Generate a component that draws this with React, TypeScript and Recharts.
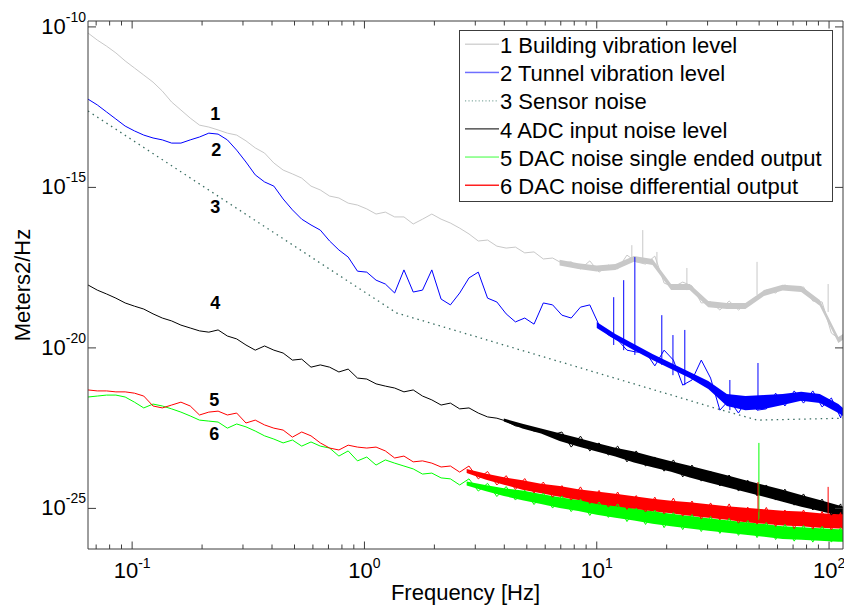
import React from 'react';
import { ComposedChart, Line, Area, XAxis, YAxis, ReferenceDot, Legend } from 'recharts';

const FONT = '"Liberation Sans", Arial, Helvetica, sans-serif';
const AXIS = '#3c3c3c';

// log10 of frequency [Hz] where the curves were read
const logFreq = [
  -1.19, -1.15, -1.11, -1.07, -1.03, -0.99, -0.95, -0.91, -0.87, -0.83,
  -0.79, -0.75, -0.71, -0.67, -0.63, -0.59, -0.55, -0.51, -0.47, -0.43,
  -0.39, -0.35, -0.31, -0.27, -0.23, -0.19, -0.15, -0.11, -0.07, -0.03,
  0.01, 0.05, 0.09, 0.13, 0.17, 0.21, 0.25, 0.29, 0.33, 0.37,
  0.41, 0.45, 0.49, 0.53, 0.57, 0.61, 0.65, 0.69, 0.73, 0.77,
  0.81, 0.85, 0.89, 0.93, 0.97, 1.01, 1.05, 1.09, 1.13, 1.17,
  1.21, 1.25, 1.29, 1.33, 1.37, 1.41, 1.45, 1.49, 1.53, 1.57,
  1.61, 1.65, 1.69, 1.73, 1.77, 1.81, 1.85, 1.89, 1.93, 1.97,
  2.01, 2.05, 2.06,
];

// log10 of PSD [m^2/Hz]
const buildingLevel = [
  -10.19, -10.41, -10.6, -10.81, -11.06, -11.28, -11.5, -11.72, -12.0, -12.34,
  -12.59, -12.84, -13.06, -13.12, -13.21, -13.31, -13.37, -13.55, -13.77, -13.93,
  -14.24, -14.46, -14.58, -14.71, -14.96, -15.08, -15.27, -15.33, -15.49, -15.55,
  -15.67, -15.83, -15.77, -15.92, -15.92, -16.14, -15.99, -15.83, -15.99, -16.11,
  -16.27, -16.45, -16.67, -16.64, -16.83, -16.89, -16.86, -17.04, -17.01, -17.23,
  -17.2, -17.36, -17.32, -17.54, -17.29, -17.64, -17.42, -17.54, -17.11, -17.32,
  -17.39, -17.14, -17.98, -18.1, -17.95, -18.07, -18.6, -18.57, -18.82, -18.54,
  -18.82, -18.6, -18.45, -18.2, -18.29, -18.04, -18.17, -18.1, -18.54, -18.57,
  -19.54, -19.75, -19.66,
];

const tunnelLevel = [
  -12.25, -12.43, -12.65, -12.87, -13.09, -13.24, -13.37, -13.46, -13.52, -13.62,
  -13.62, -13.52, -13.43, -13.31, -13.34, -13.52, -13.84, -14.21, -14.61, -14.83,
  -14.96, -15.36, -15.7, -15.99, -16.17, -16.33, -16.67, -16.95, -17.17, -17.61,
  -17.64, -17.89, -18.01, -18.29, -17.57, -18.26, -18.2, -17.57, -18.48, -18.66,
  -18.29, -17.82, -17.64, -18.45, -18.57, -18.94, -19.19, -19.07, -19.26, -18.6,
  -18.66, -18.98, -19.07, -18.73, -18.66, -19.29, -19.6, -19.75, -20.07, -20.13,
  -20.13, -20.56, -20.07, -20.38, -21.16, -21.0, -20.38, -20.94, -21.94, -21.62,
  -22.03, -21.56, -21.94, -21.9, -21.41, -21.81, -21.34, -21.72, -21.34, -21.84,
  -21.56, -22.18, -21.87,
];

const sensorLogFreq = [-1.19, 0.138, 1.539, 1.69, 2.06];
const sensorLevel = [-12.62, -18.91, -21.94, -22.25, -22.19];

const adcLevel = [
  -18.04, -18.2, -18.32, -18.45, -18.6, -18.7, -18.79, -18.94, -19.07, -19.16,
  -19.29, -19.38, -19.47, -19.51, -19.44, -19.63, -19.72, -19.91, -20.07, -19.94,
  -20.07, -20.16, -20.38, -20.35, -20.6, -20.53, -20.6, -20.75, -20.66, -20.94,
  -20.97, -21.12, -21.19, -21.25, -21.37, -21.31, -21.5, -21.62, -21.78, -21.72,
  -21.9, -21.87, -22.03, -22.15, -22.19, -22.28, -22.43, -22.46, -22.59, -22.59,
  -22.71, -22.62, -23.09, -22.75, -23.21, -22.96, -23.34, -23.06, -23.55, -23.21,
  -23.68, -23.4, -23.84, -23.49, -24.02, -23.65, -24.15, -23.84, -24.3, -23.96,
  -24.46, -24.12, -24.61, -24.27, -24.74, -24.4, -24.9, -24.55, -25.05, -24.71,
  -25.21, -24.86, -25.18,
];

const dacSingleLevel = [
  -21.53, -21.5, -21.47, -21.47, -21.53, -21.69, -21.87, -21.75, -21.81, -21.9,
  -22.0, -22.12, -22.25, -22.28, -22.31, -22.5, -22.37, -22.46, -22.59, -22.74,
  -22.84, -22.96, -22.87, -23.06, -22.93, -23.06, -23.12, -23.37, -23.21, -23.52,
  -23.4, -23.65, -23.49, -23.59, -23.68, -23.77, -23.93, -23.9, -24.05, -24.08,
  -24.27, -24.08, -24.46, -24.22, -24.63, -24.32, -24.74, -24.43, -24.88, -24.52,
  -24.99, -24.61, -25.1, -24.71, -25.22, -24.8, -25.28, -24.86, -25.41, -24.99,
  -25.5, -25.05, -25.6, -25.13, -25.66, -25.19, -25.72, -25.25, -25.78, -25.31,
  -25.84, -25.38, -25.91, -25.44, -25.97, -25.5, -26.02, -25.53, -26.05, -25.56,
  -26.05, -25.6, -26.03,
];

const dacDiffLevel = [
  -21.31, -21.34, -21.34, -21.37, -21.37, -21.41, -21.5, -21.81, -21.87, -21.78,
  -21.69, -21.81, -22.09, -22.0, -21.97, -22.09, -22.03, -22.34, -22.25, -22.4,
  -22.5, -22.56, -22.78, -22.62, -22.74, -22.96, -23.12, -23.18, -23.03, -23.09,
  -23.12, -23.09, -23.21, -23.43, -23.37, -23.55, -23.52, -23.59, -23.71, -23.68,
  -23.87, -23.68, -24.08, -23.85, -24.27, -23.98, -24.41, -24.07, -24.52, -24.18,
  -24.65, -24.29, -24.74, -24.33, -24.85, -24.44, -24.96, -24.49, -25.03, -24.6,
  -25.11, -24.65, -25.17, -24.68, -25.24, -24.77, -25.33, -24.83, -25.36, -24.86,
  -25.46, -24.96, -25.49, -24.97, -25.56, -25.05, -25.63, -25.05, -25.64, -25.1,
  -25.67, -25.13, -25.66,
];

// solid core of the dense noise bands (log10 Hz, log10 PSD)
const bandLogFreq = [
  0.2, 0.28, 0.36, 0.44, 0.52, 0.6, 0.68, 0.76, 0.84, 0.92, 1.0, 1.08, 1.16,
  1.24, 1.32, 1.4, 1.48, 1.56, 1.64, 1.72, 1.8, 1.88, 1.96, 2.04, 2.06,
];
const buildingBandTop = [
  null, null, null, null, null, null, null, null, -17.25, -17.36, -17.43, -17.39, -17.14,
  -17.23, -18.01, -18.01, -18.54, -18.6, -18.6, -18.2, -18.03, -18.07, -18.51, -19.66, -19.57,
];
const buildingBandBottom = [
  null, null, null, null, null, null, null, null, -17.43, -17.54, -17.62, -17.57, -17.32,
  -17.42, -18.2, -18.2, -18.73, -18.79, -18.79, -18.38, -18.21, -18.26, -18.69, -19.85, -19.75,
];
const tunnelBandTop = [
  null, null, null, null, null, null, null, null, null, null, -19.19, -19.57, -19.88,
  -20.19, -20.47, -20.75, -21.03, -21.44, -21.5, -21.47, -21.44, -21.37, -21.44, -21.75, -21.87,
];
const tunnelBandBottom = [
  null, null, null, null, null, null, null, null, null, null, -19.38, -19.75, -20.07,
  -20.38, -20.66, -20.94, -21.28, -21.81, -21.94, -21.9, -21.78, -21.65, -21.72, -22.03, -22.12,
];
const adcBandTop = [
  null, null, null, null, null, -22.2, -22.36, -22.51, -22.66, -22.81, -22.96, -23.11, -23.23,
  -23.38, -23.53, -23.67, -23.82, -23.97, -24.12, -24.27, -24.42, -24.58, -24.74, -24.9, -24.94,
];
const adcBandBottom = [
  null, null, null, null, null, -22.29, -22.51, -22.67, -22.9, -23.07, -23.23, -23.38, -23.57,
  -23.72, -23.86, -24.04, -24.19, -24.34, -24.49, -24.64, -24.79, -24.95, -25.08, -25.22, -25.25,
];
const dacSingleBandTop = [
  null, null, null, -24.16, -24.27, -24.37, -24.44, -24.55, -24.65, -24.74, -24.81, -24.9, -25.0,
  -25.09, -25.17, -25.24, -25.31, -25.37, -25.43, -25.49, -25.56, -25.59, -25.62, -25.65, -25.65,
];
const dacSingleBandBottom = [
  null, null, null, -24.29, -24.46, -24.61, -24.75, -24.86, -24.99, -25.08, -25.2, -25.29, -25.38,
  -25.48, -25.56, -25.63, -25.7, -25.76, -25.82, -25.88, -25.95, -25.98, -26.01, -26.04, -26.04,
];
const dacDiffBandTop = [
  null, null, null, -23.77, -23.91, -24.03, -24.12, -24.23, -24.3, -24.4, -24.47, -24.54, -24.62,
  -24.7, -24.76, -24.81, -24.87, -24.93, -24.98, -25.03, -25.07, -25.1, -25.15, -25.18, -25.18,
];
const dacDiffBandBottom = [
  null, null, null, -23.9, -24.1, -24.26, -24.42, -24.53, -24.64, -24.74, -24.86, -24.93, -25.01,
  -25.09, -25.15, -25.23, -25.29, -25.35, -25.43, -25.48, -25.53, -25.56, -25.6, -25.63, -25.63,
];

// narrow spectral lines (log10 Hz, top and base in log10 PSD)
const buildingSpikeLogFreq = [1.151, 1.198, 1.259, 1.388, 1.69, 1.996];
const buildingSpikeTop = [-16.8, -16.33, -17.01, -17.51, -17.32, -18.01];
const buildingSpikeBase = [-17.32, -17.32, -17.57, -18.2, -18.35, -18.88];
const tunnelSpikeLogFreq = [1.073, 1.116, 1.164, 1.28, 1.328, 1.379, 1.573, 1.694];
const tunnelSpikeTop = [-18.42, -17.89, -17.17, -18.98, -19.6, -19.44, -21.0, -20.47];
const tunnelSpikeBase = [-19.91, -20.07, -20.22, -20.53, -20.85, -21.16, -21.94, -21.94];
const dacSingleSpikeLogFreq = [1.698];
const dacSingleSpikeTop = [-22.96];
const dacSingleSpikeBase = [-25.36];
const dacDiffSpikeLogFreq = [1.694, 1.996];
const dacDiffSpikeTop = [-24.18, -24.33];
const dacDiffSpikeBase = [-25.11, -25.3];

const legendLabels = [
  '1 Building vibration level',
  '2 Tunnel vibration level',
  '3 Sensor noise',
  '4 ADC input noise level',
  '5 DAC noise single ended output',
  '6 DAC noise differential output',
];
const legendColors = ['#d4d4d4', '#6f6fff', '#6a9a8e', '#555555', '#7dff7d', '#ff2020'];

const annotationText = ['1', '2', '3', '4', '5', '6'];
const annotationLogFreq = [-0.642, -0.638, -0.642, -0.642, -0.647, -0.647];
const annotationLevel = [-12.7, -13.82, -15.6, -18.59, -21.62, -22.68];

const freqTicks = [
  0.07, 0.08, 0.09, 0.1, 0.2, 0.3, 0.4, 0.5, 0.6, 0.7, 0.8, 0.9,
  1, 2, 3, 4, 5, 6, 7, 8, 9, 10, 20, 30, 40, 50, 60, 70, 80, 90, 100,
];
const psdTicks = [1e-25, 1e-20, 1e-15, 1e-10];

const pow = (v: number) => Math.pow(10, v);
const X_DOMAIN = [pow(-1.19), pow(2.06)];
const Y_DOMAIN = [pow(-26.265), pow(-9.816)];

function toRows(lf: number[], lv: number[]) {
  return lf.map((v, i) => ({ f: pow(v), psd: pow(lv[i]) }));
}

function toBand(top: (number | null)[], bottom: (number | null)[]) {
  const rows: { f: number; range: number[] }[] = [];
  bandLogFreq.forEach((v, i) => {
    const t = top[i];
    const b = bottom[i];
    if (t == null || b == null) return;
    rows.push({ f: pow(v), range: [pow(b), pow(t)] });
  });
  return rows;
}

function toSpikes(lf: number[], top: number[], base: number[]) {
  return lf.map((v, i) => [
    { f: pow(v), psd: pow(base[i]) },
    { f: pow(v), psd: pow(top[i]) },
  ]);
}

type Series = {
  name: string;
  color: string;
  dotted?: boolean;
  rows: { f: number; psd: number }[];
  band?: { f: number; range: number[] }[];
  spikes?: { f: number; psd: number }[][];
};

const SERIES: Series[] = [
  {
    name: 'building',
    color: '#c8c8c8',
    rows: toRows(logFreq, buildingLevel),
    band: toBand(buildingBandTop, buildingBandBottom),
    spikes: toSpikes(buildingSpikeLogFreq, buildingSpikeTop, buildingSpikeBase),
  },
  {
    name: 'tunnel',
    color: '#0000ff',
    rows: toRows(logFreq, tunnelLevel),
    band: toBand(tunnelBandTop, tunnelBandBottom),
    spikes: toSpikes(tunnelSpikeLogFreq, tunnelSpikeTop, tunnelSpikeBase),
  },
  { name: 'sensor', color: '#3a6e62', dotted: true, rows: toRows(sensorLogFreq, sensorLevel) },
  {
    name: 'adc',
    color: '#000000',
    rows: toRows(logFreq, adcLevel),
    band: toBand(adcBandTop, adcBandBottom),
  },
  {
    name: 'dacSingle',
    color: '#00ff00',
    rows: toRows(logFreq, dacSingleLevel),
    band: toBand(dacSingleBandTop, dacSingleBandBottom),
    spikes: toSpikes(dacSingleSpikeLogFreq, dacSingleSpikeTop, dacSingleSpikeBase),
  },
  {
    name: 'dacDiff',
    color: '#ff0000',
    rows: toRows(logFreq, dacDiffLevel),
    band: toBand(dacDiffBandTop, dacDiffBandBottom),
    spikes: toSpikes(dacDiffSpikeLogFreq, dacDiffSpikeTop, dacDiffSpikeBase),
  },
];

const isDecade = (v: number) => {
  const e = Math.log10(v);
  return Math.abs(e - Math.round(e)) < 1e-6;
};

const BottomTick = ({ x, y, payload }: any) => {
  const major = isDecade(payload.value);
  const exp = Math.round(Math.log10(payload.value));
  return (
    <g>
      <line x1={x} x2={x} y1={y} y2={y - (major ? 7.5 : 4.5)} stroke={AXIS} />
      {major && (
        <text x={x} y={y + 29} textAnchor="middle" fontFamily={FONT} fontSize={22} fill="#000">
          10
          <tspan dy={-10} fontSize={14}>
            {exp}
          </tspan>
        </text>
      )}
    </g>
  );
};

const TopTick = ({ x, y, payload }: any) => {
  const major = isDecade(payload.value);
  return <line x1={x} x2={x} y1={y} y2={y + (major ? 7.5 : 4.5)} stroke={AXIS} />;
};

const LeftTick = ({ x, y, payload }: any) => {
  const exp = Math.round(Math.log10(payload.value));
  return (
    <g>
      <line x1={x} x2={x + 8} y1={y} y2={y} stroke={AXIS} />
      <text x={x - 2} y={y + 7} textAnchor="end" fontFamily={FONT} fontSize={22} fill="#000">
        10
        <tspan dy={-12} fontSize={14}>
          {exp}
        </tspan>
      </text>
    </g>
  );
};

const RightTick = ({ x, y }: any) => (
  <line x1={x} x2={x - 8} y1={y} y2={y} stroke={AXIS} />
);

const xTitle = (props: any) => {
  const { x, y, width, height } = props.viewBox;
  return (
    <text x={x + width / 2} y={y + height - 5} textAnchor="middle" fontFamily={FONT} fontSize={22} fill="#000">
      Frequency [Hz]
    </text>
  );
};

const yTitle = (props: any) => {
  const { y, height } = props.viewBox;
  const cx = 29.5;
  const cy = y + height / 2;
  return (
    <text
      x={cx}
      y={cy}
      transform={`rotate(-90 ${cx} ${cy})`}
      textAnchor="middle"
      fontFamily={FONT}
      fontSize={22}
      fill="#000"
    >
      Meters2/Hz
    </text>
  );
};

const LegendBox = () => (
  <svg width={375} height={173} style={{ display: 'block' }}>
    <rect x={0.5} y={0.5} width={373} height={171} fill="#fff" stroke={AXIS} />
    {legendLabels.map((label, i) => {
      const by = 23 + 28.2 * i;
      return (
        <g key={label}>
          {i === 2 ? (
            <line x1={6} x2={40} y1={by - 8.5} y2={by - 8.5} stroke={legendColors[i]} strokeDasharray="1.2 2.2" />
          ) : (
            <rect x={6} y={by - 9.5} width={34} height={1.5} fill={legendColors[i]} />
          )}
          <text x={41} y={by} fontFamily={FONT} fontSize={22} fill="#000">
            {label}
          </text>
        </g>
      );
    })}
  </svg>
);

export default function App() {
  const items: React.ReactNode[] = [];
  SERIES.forEach((s) => {
    if (s.band) {
      items.push(
        <Area
          key={`${s.name}-band`}
          data={s.band}
          dataKey="range"
          stroke="none"
          fill={s.color}
          fillOpacity={1}
          dot={false}
          activeDot={false}
          isAnimationActive={false}
        />
      );
    }
    items.push(
      <Line
        key={`${s.name}-line`}
        data={s.rows}
        dataKey="psd"
        stroke={s.color}
        strokeWidth={s.dotted ? 1.3 : 1}
        strokeDasharray={s.dotted ? '1.5 4' : undefined}
        dot={false}
        activeDot={false}
        isAnimationActive={false}
      />
    );
    (s.spikes || []).forEach((sp, j) => {
      items.push(
        <Line
          key={`${s.name}-spike-${j}`}
          data={sp}
          dataKey="psd"
          stroke={s.color}
          strokeWidth={1}
          dot={false}
          activeDot={false}
          isAnimationActive={false}
        />
      );
    });
  });

  return (
    <div style={{ position: 'absolute', left: 0, top: 0, width: 844, height: 605, background: '#fff' }}>
      <ComposedChart width={844} height={605} margin={{ top: 0, right: 0, bottom: 0, left: 0 }}>
        <XAxis
          dataKey="f"
          type="number"
          scale="log"
          domain={X_DOMAIN}
          allowDataOverflow
          ticks={freqTicks}
          interval={0}
          tickSize={0}
          tickMargin={0}
          tickLine={false}
          axisLine={{ stroke: AXIS }}
          height={56}
          tick={(p: any) => <BottomTick {...p} />}
          label={{ content: xTitle }}
        />
        <XAxis
          xAxisId="top"
          orientation="top"
          dataKey="f"
          type="number"
          scale="log"
          domain={X_DOMAIN}
          allowDataOverflow
          ticks={freqTicks}
          interval={0}
          tickSize={0}
          tickMargin={0}
          tickLine={false}
          axisLine={{ stroke: AXIS }}
          height={21}
          tick={(p: any) => <TopTick {...p} />}
        />
        <YAxis
          type="number"
          scale="log"
          domain={Y_DOMAIN}
          allowDataOverflow
          ticks={psdTicks}
          interval={0}
          tickSize={0}
          tickMargin={0}
          tickLine={false}
          axisLine={{ stroke: AXIS }}
          width={88}
          tick={(p: any) => <LeftTick {...p} />}
          label={{ content: yTitle }}
        />
        <YAxis
          yAxisId="right"
          orientation="right"
          type="number"
          scale="log"
          domain={Y_DOMAIN}
          allowDataOverflow
          ticks={psdTicks}
          interval={0}
          tickSize={0}
          tickMargin={0}
          tickLine={false}
          axisLine={{ stroke: AXIS }}
          width={1}
          tick={(p: any) => <RightTick {...p} />}
        />
        {items}
        {annotationText.map((t, i) => (
          <ReferenceDot
            key={`note-${t}`}
            x={pow(annotationLogFreq[i])}
            y={pow(annotationLevel[i])}
            r={0}
            fill="none"
            stroke="none"
            label={{ value: t, position: 'center', fill: '#000', fontSize: 18, fontWeight: 'bold', fontFamily: FONT }}
          />
        ))}
        <Legend
          layout="vertical"
          align="center"
          verticalAlign="middle"
          wrapperStyle={{ left: 459, top: 30, width: 375, height: 173 }}
          content={() => <LegendBox />}
        />
      </ComposedChart>
    </div>
  );
}
